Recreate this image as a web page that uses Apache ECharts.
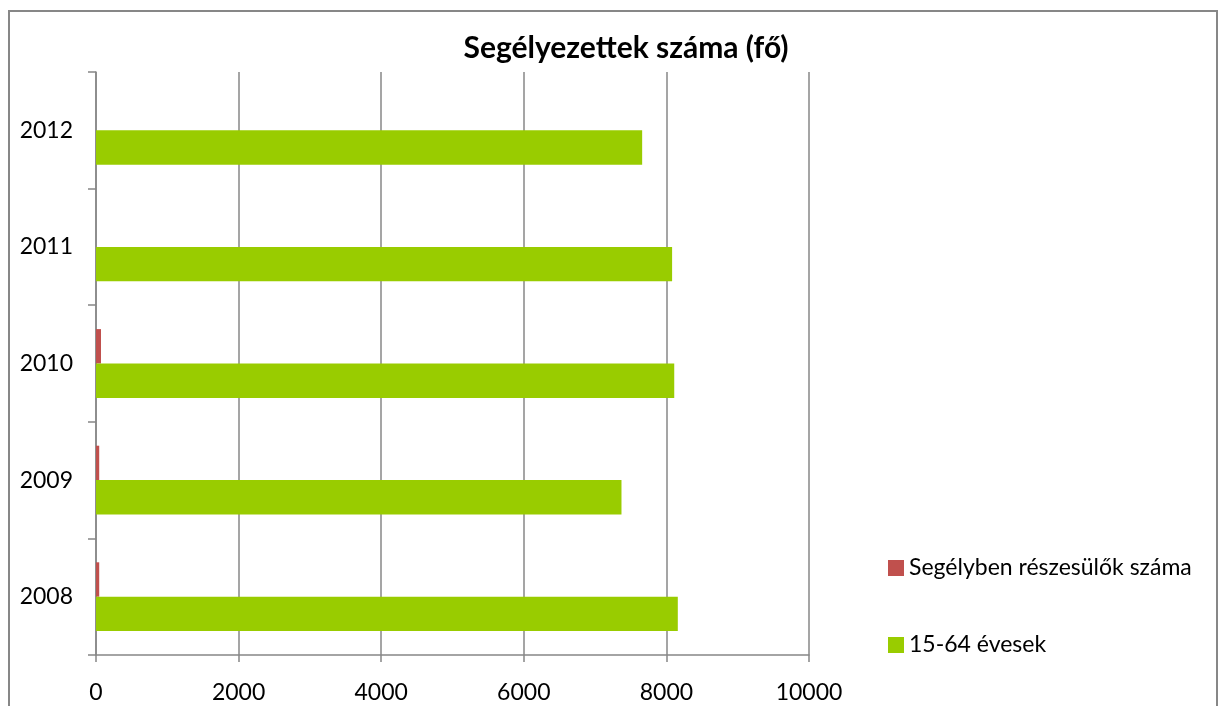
<!DOCTYPE html>
<html>
<head>
<meta charset="utf-8">
<script src="https://cdn.jsdelivr.net/npm/echarts@6/dist/echarts.min.js"></script>
<style>html,body{margin:0;padding:0;background:#fff;}#c{width:1220px;height:706px;}</style>
</head>
<body>
<div id="c"></div>
<script>
const categories = ['2008', '2009', '2010', '2011', '2012'];
const seriesNames = ['Segélyben részesülők száma', '15-64 évesek'];
const recipients = [45, 45, 70, 0, 0];
const ages15to64 = [8160, 7370, 8110, 8080, 7660];
const xTicks = [0, 2000, 4000, 6000, 8000, 10000];

const FONT = 'Lato';
const GRAY = '#878787';
const chart = echarts.init(document.getElementById('c'), null, {renderer: 'canvas'});
chart.setOption({
  animation: false,
  backgroundColor: '#fff',
  textStyle: {fontFamily: FONT},
  graphic: [{
    type: 'rect', silent: true,
    shape: {x: 9, y: 11, width: 1208, height: 720},
    style: {fill: 'none', stroke: GRAY, lineWidth: 2}
  }],
  title: {
    text: 'Segélyezettek száma (fő)',
    left: 621, top: 26, textAlign: 'center',
    textStyle: {fontFamily: FONT, fontWeight: 'bold', fontSize: 30, lineHeight: 34, color: '#000'}
  },
  legend: {
    orient: 'vertical', left: 883, top: 551,
    itemWidth: 16, itemHeight: 16, itemGap: 53, icon: 'rect',
    data: seriesNames,
    textStyle: {fontFamily: FONT, fontSize: 23, color: '#000', lineHeight: 24, padding: [0, 0, 0, 0]}
  },
  grid: {left: 96, right: 411, top: 72, bottom: 51, containLabel: false},
  xAxis: {
    type: 'value', min: xTicks[0], max: xTicks[xTicks.length - 1], interval: 2000,
    axisLine: {show: true, lineStyle: {color: GRAY, width: 1.5}},
    axisTick: {show: true, length: 7, lineStyle: {color: GRAY, width: 1.5}},
    splitLine: {show: true, lineStyle: {color: GRAY, width: 1.5}},
    axisLabel: {fontFamily: FONT, fontSize: 23, color: '#000', margin: 26,
      formatter: function (v) { return String(v); }}
  },
  yAxis: {
    type: 'category', data: categories,
    axisLine: {show: true, lineStyle: {color: GRAY, width: 1.5}},
    axisTick: {show: true, length: 8, lineStyle: {color: GRAY, width: 1.5}},
    splitLine: {show: false},
    axisLabel: {fontFamily: FONT, fontSize: 23, color: '#000', margin: 23}
  },
  series: [
    {name: seriesNames[0], type: 'bar', data: recipients, itemStyle: {color: '#C0504D'},
     barGap: '0%', barCategoryGap: '41%'},
    {name: seriesNames[1], type: 'bar', data: ages15to64, itemStyle: {color: '#99CC00'},
     barGap: '0%', barCategoryGap: '41%'}
  ]
});
</script>
</body>
</html>
